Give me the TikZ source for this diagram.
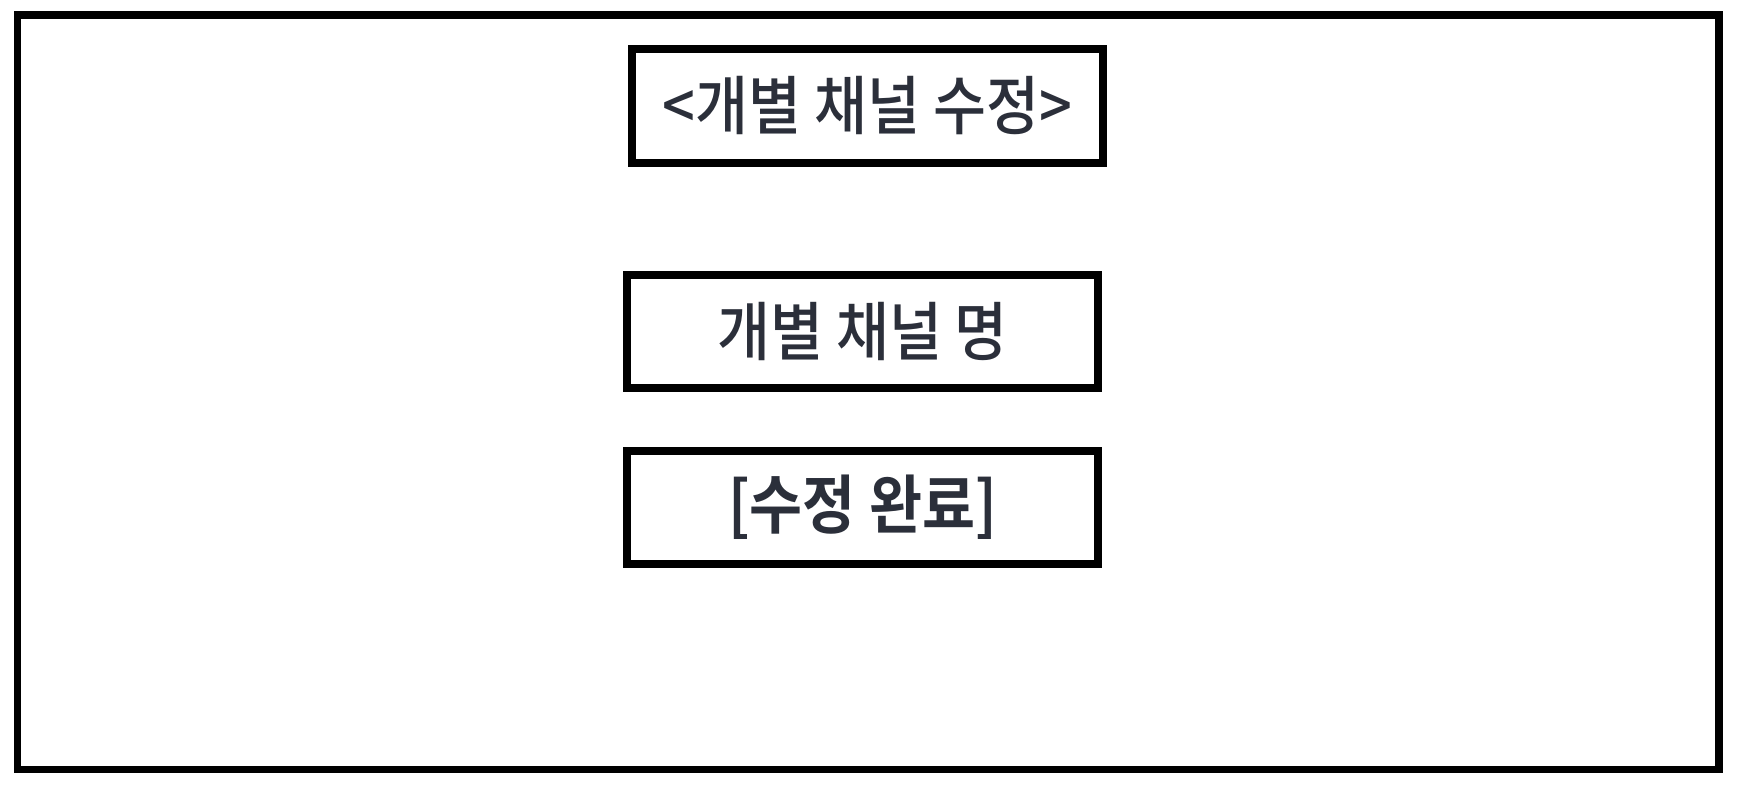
\documentclass[tikz,border=0pt]{standalone}
\usepackage{fontspec}
\newfontfamily\kr[UprightFont=* Medium,FakeStretch=0.9]{Noto Sans CJK KR}
\newfontfamily\krbold[UprightFont=* Bold,FakeStretch=0.9]{Noto Sans CJK KR}
\usepackage{tikz}
\definecolor{inkgray}{HTML}{2B2F3A}

\begin{document}
\begin{tikzpicture}[x=1pt,y=-1pt,
  box/.style={draw=black,line width=8pt,minimum width=471pt,minimum height=113pt,inner sep=0pt,text=inkgray},
  label/.style={font=\kr\fontsize{64}{74}\selectfont},
  btnlabel/.style={font=\krbold\fontsize{64}{74}\selectfont}]
\useasboundingbox (0,0) rectangle (1744,790);
\draw[line width=7.5pt] (17.5,15) rectangle (1719,769.5);

\node[box,label,minimum height=113.5pt] (title) at (867.5,105.75) {<개별 채널 수정>};
\node[box,label] (name) at (862.5,331) {개별 채널 명};
\node[box,btnlabel] (done) at (862.5,507.5) {[수정 완료]};
\end{tikzpicture}
\end{document}
